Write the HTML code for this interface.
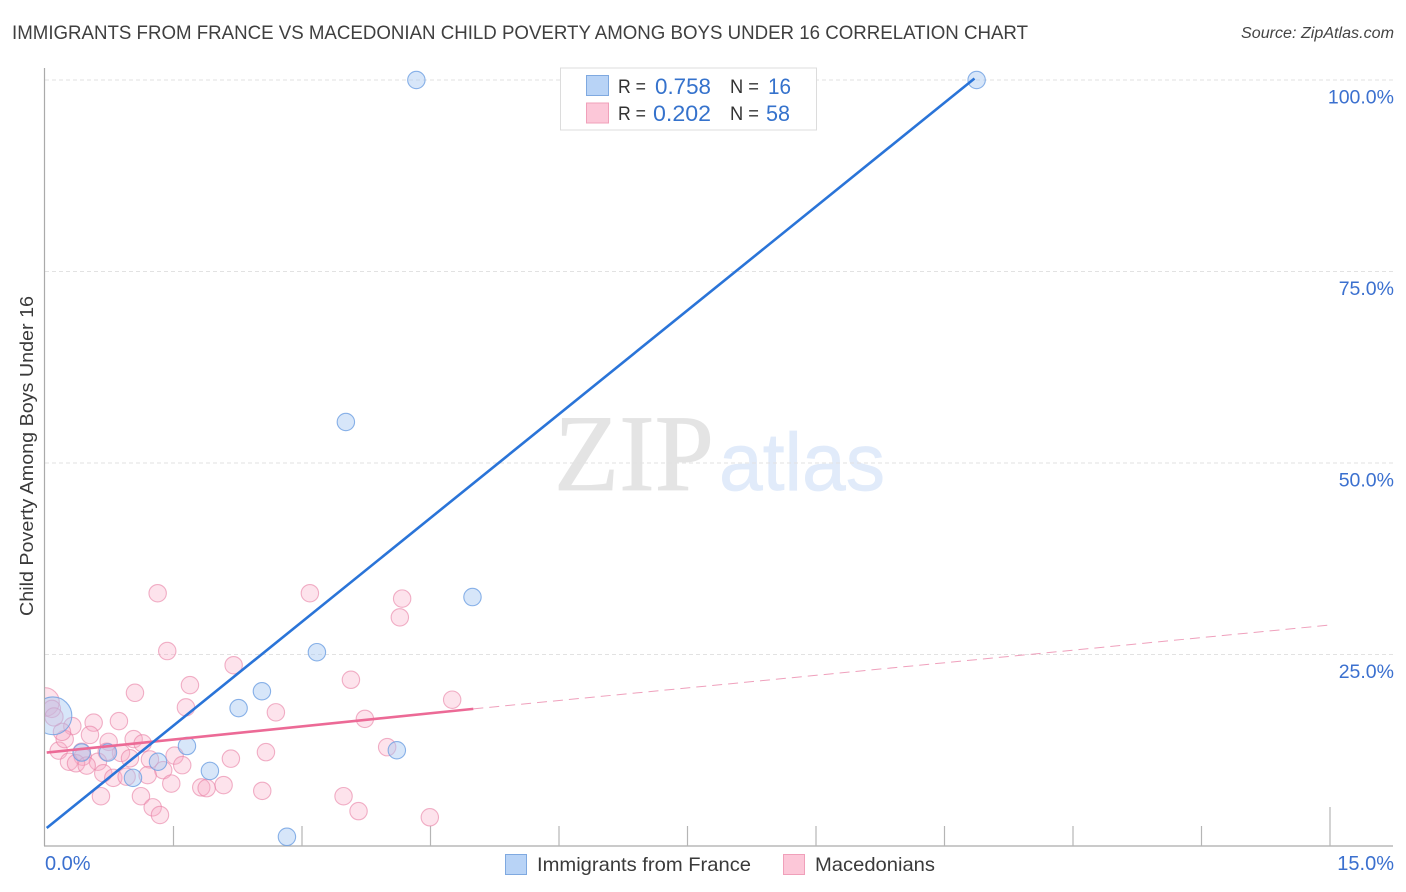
<!DOCTYPE html>
<html lang="en">
<head>
<meta charset="utf-8">
<title>Immigrants from France vs Macedonian Child Poverty Among Boys Under 16 Correlation Chart</title>
<style>
html,body{margin:0;padding:0;background:#fff;}
#chart{display:block;width:1406px;height:892px;font-family:"Liberation Sans",sans-serif;}
</style>
</head>
<body>
<svg id="chart" xmlns="http://www.w3.org/2000/svg" width="1406" height="892" viewBox="0 0 1406 892">
  <defs>
    <clipPath id="plot-clip"><rect x="45" y="60" width="1350" height="786"/></clipPath>
  </defs>
  <text x="12" y="39" font-size="19" fill="#3f3f3f" textLength="1016" lengthAdjust="spacingAndGlyphs">IMMIGRANTS FROM FRANCE VS MACEDONIAN CHILD POVERTY AMONG BOYS UNDER 16 CORRELATION CHART</text>
  <text x="1241" y="38" font-size="15.5" font-style="italic" fill="#444" textLength="153" lengthAdjust="spacingAndGlyphs">Source: ZipAtlas.com</text>

  <g id="watermark">
    <text x="554" y="490" font-family="'Liberation Serif',serif" font-size="109" fill="#e4e4e4" stroke="#e4e4e4" stroke-width="0.8" textLength="160" lengthAdjust="spacingAndGlyphs">ZIP</text>
    <text x="719" y="490" font-size="82" fill="#e1ebfa" stroke="#e1ebfa" stroke-width="0.7" textLength="166" lengthAdjust="spacingAndGlyphs">atlas</text>
  </g>

  <g id="grid"></g>
  <g id="axes"></g>
  <g id="points-pink" clip-path="url(#plot-clip)"></g>
  <g id="points-blue" clip-path="url(#plot-clip)"></g>
  <g id="trends"></g>
  <g id="y-labels"></g>
  <g id="x-labels"></g>

  <text transform="translate(33,456) rotate(-90)" font-size="18.5" fill="#3a3a3a" text-anchor="middle" textLength="320" lengthAdjust="spacingAndGlyphs">Child Poverty Among Boys Under 16</text>

  <g>
    <rect x="560.5" y="68" width="256" height="62" fill="#fff" stroke="#dcdcdc" stroke-width="1"/>
    <rect x="586.5" y="75.5" width="22" height="20" fill="#b8d3f6" stroke="#7fa9e0" stroke-width="1"/>
    <rect x="586.5" y="103" width="22" height="20" fill="#fcc7d8" stroke="#f0a0ba" stroke-width="1"/>
    <text x="618" y="93" font-size="19" fill="#333" textLength="28" lengthAdjust="spacingAndGlyphs">R =</text>
    <text x="655" y="94" font-size="22" fill="#3572cc" textLength="56" lengthAdjust="spacingAndGlyphs">0.758</text>
    <text x="730" y="93" font-size="19" fill="#333" textLength="29" lengthAdjust="spacingAndGlyphs">N =</text>
    <text x="768" y="94" font-size="22" fill="#3572cc" textLength="23" lengthAdjust="spacingAndGlyphs">16</text>
    <text x="618" y="120" font-size="19" fill="#333" textLength="28" lengthAdjust="spacingAndGlyphs">R =</text>
    <text x="653" y="121" font-size="22" fill="#3572cc" textLength="58" lengthAdjust="spacingAndGlyphs">0.202</text>
    <text x="730" y="120" font-size="19" fill="#333" textLength="29" lengthAdjust="spacingAndGlyphs">N =</text>
    <text x="766" y="121" font-size="22" fill="#3572cc" textLength="24" lengthAdjust="spacingAndGlyphs">58</text>
  </g>

  <g>
    <rect x="505.5" y="854.5" width="21" height="20" fill="#b8d3f6" stroke="#7fa9e0" stroke-width="1"/>
    <text x="537" y="871" font-size="19.5" fill="#3a3a3a" textLength="214" lengthAdjust="spacingAndGlyphs">Immigrants from France</text>
    <rect x="783.5" y="854.5" width="21" height="20" fill="#fcc7d8" stroke="#f0a0ba" stroke-width="1"/>
    <text x="815" y="871" font-size="19.5" fill="#3a3a3a" textLength="120" lengthAdjust="spacingAndGlyphs">Macedonians</text>
  </g>
</svg>
<script>
var yTickValues = [100, 75, 50, 25];
var yTickLabels = ["100.0%", "75.0%", "50.0%", "25.0%"];
var xTickValues = [1.5, 3, 4.5, 6, 7.5, 9, 10.5, 12, 13.5, 15];
var xEdgeLabels = ["0.0%", "15.0%"];

var franceX = [4.335, 10.875, 3.512, 4.99, 3.174, 2.532, 2.26, 1.657, 1.925, 4.107, 0.428, 0.735, 1.027, 1.319, 2.824, 0.093];
var franceY = [100, 100, 55.35, 32.5, 25.3, 20.2, 18.0, 13.05, 9.8, 12.5, 12.2, 12.2, 8.9, 11.0, 1.2, 17.0];
var franceWeight = [1, 1, 1, 1, 1, 1, 1, 1, 1, 1, 1, 1, 1, 1, 1, 4.7];

var macedX = [1.315, 3.092, 4.169, 4.142, 1.427, 2.202, 1.692, 1.05, 3.571, 4.753, 1.645, 2.695, 3.734, 0.863, 0.568, 0.319, 0.525, 1.035, 0.743, 1.14, 3.994, 2.579, 0.16, 0.23, 0.198, 0.428, 0.44, 0.887, 0.72, 1.513, 1.225, 0.992, 2.17, 0.618, 0.28, 0.362, 0.487, 1.38, 1.602, 0.68, 1.198, 0.797, 0.953, 1.474, 1.824, 1.887, 2.085, 2.536, 0.653, 1.12, 3.485, 3.66, 1.257, 1.342, 4.492, 0, 0.08, 0.105];
var macedY = [33.0, 33.0, 32.3, 29.85, 25.45, 23.6, 21.0, 20.0, 21.7, 19.1, 18.1, 17.45, 16.6, 16.3, 16.1, 15.65, 14.5, 13.95, 13.6, 13.4, 12.9, 12.25, 12.45, 13.95, 14.9, 12.3, 11.65, 12.15, 12.3, 11.8, 11.3, 11.45, 11.4, 11.0, 11.0, 10.8, 10.5, 9.9, 10.55, 9.5, 9.25, 8.9, 9.05, 8.15, 7.65, 7.55, 7.95, 7.2, 6.5, 6.5, 6.5, 4.55, 5.05, 4.05, 3.75, 18.8, 17.9, 16.85];
var macedWeight = [1, 1, 1, 1, 1, 1, 1, 1, 1, 1, 1, 1, 1, 1, 1, 1, 1, 1, 1, 1, 1, 1, 1, 1, 1, 1, 1, 1, 1, 1, 1, 1, 1, 1, 1, 1, 1, 1, 1, 1, 1, 1, 1, 1, 1, 1, 1, 1, 1, 1, 1, 1, 1, 1, 1, 2.7, 1, 1.1];

var franceTrendX = [0.02, 10.85];
var franceTrendY = [2.35, 100.2];
var macedTrendX = [0.02, 5.0];
var macedTrendY = [12.2, 17.9];
var macedDashX = [5.0, 15];
var macedDashY = [17.9, 28.85];

var SVGNS = "http://www.w3.org/2000/svg";
function xScale(v) { return 45 + v * (1330 - 45) / 15; }
function yScale(v) { return 846 - v * (846 - 80) / 100; }
function rScale(w) { return 8.7 * Math.sqrt(w); }
function make(tag, parent, attrs) {
  var el = document.createElementNS(SVGNS, tag);
  for (var k in attrs) { el.setAttribute(k, attrs[k]); }
  parent.appendChild(el);
  return el;
}

var gridG = document.getElementById("grid");
var axesG = document.getElementById("axes");
var yLabG = document.getElementById("y-labels");
var xLabG = document.getElementById("x-labels");

yTickValues.forEach(function (v, i) {
  var line = make("line", gridG, { x1: 45, x2: 1393, y1: yScale(v), y2: yScale(v), stroke: "#e2e2e2", "stroke-width": 1, "stroke-dasharray": "4 3" });
  
  
  var t = make("text", yLabG, { x: 1394, y: yScale(v) + 23.5, "font-size": 19.5, fill: "#3b70cf", "text-anchor": "end" });
  t.textContent = yTickLabels[i];
  
  
});

var yAxis = make("line", axesG, { x1: 44.5, x2: 44.5, y1: 68, y2: 846, stroke: "#aaaaaa", "stroke-width": 1.2 });


var xAxis = make("line", axesG, { x1: 44, x2: 1393, y1: 846, y2: 846, stroke: "#aaaaaa", "stroke-width": 1.2 });



xTickValues.forEach(function (v, i) {
  var len = i === xTickValues.length - 1 ? 39 : 20;
  var tick = make("line", axesG, { x1: xScale(v), x2: xScale(v), y1: 846 - len, y2: 846, stroke: "#b5b5b5", "stroke-width": 1.2 });
  
  
});

var x0Label = make("text", xLabG, { x: 45, y: 870, "font-size": 20, fill: "#3b70cf" });
x0Label.textContent = xEdgeLabels[0];


var x1Label = make("text", xLabG, { x: 1394, y: 870, "font-size": 20, fill: "#3b70cf", "text-anchor": "end" });
x1Label.textContent = xEdgeLabels[1];



var pinkG = document.getElementById("points-pink");
macedX.forEach(function (v, i) {
  var c = make("circle", pinkG, { cx: xScale(v), cy: yScale(macedY[i]), r: rScale(macedWeight[i]), fill: "#f9a8c4", "fill-opacity": 0.32, stroke: "#e87fa4", "stroke-opacity": 0.6, "stroke-width": 1.1 });
  
  
});

var blueG = document.getElementById("points-blue");
franceX.forEach(function (v, i) {
  var c = make("circle", blueG, { cx: xScale(v), cy: yScale(franceY[i]), r: rScale(franceWeight[i]), fill: "#a6c8f2", "fill-opacity": 0.45, stroke: "#6d9fe2", "stroke-opacity": 0.8, "stroke-width": 1.1 });
  
  
});

var trendG = document.getElementById("trends");
var dash = make("line", trendG, { x1: xScale(macedDashX[0]), y1: yScale(macedDashY[0]), x2: xScale(macedDashX[1]), y2: yScale(macedDashY[1]), stroke: "#e8789f", "stroke-width": 1, "stroke-dasharray": "10 6", "stroke-opacity": 0.7 });


var pinkLine = make("line", trendG, { x1: xScale(macedTrendX[0]), y1: yScale(macedTrendY[0]), x2: xScale(macedTrendX[1]), y2: yScale(macedTrendY[1]), stroke: "#ec6a96", "stroke-width": 2.6 });


var blueLine = make("line", trendG, { x1: xScale(franceTrendX[0]), y1: yScale(franceTrendY[0]), x2: xScale(franceTrendX[1]), y2: yScale(franceTrendY[1]), stroke: "#2a74d8", "stroke-width": 2.6 });


</script>
</body>
</html>
